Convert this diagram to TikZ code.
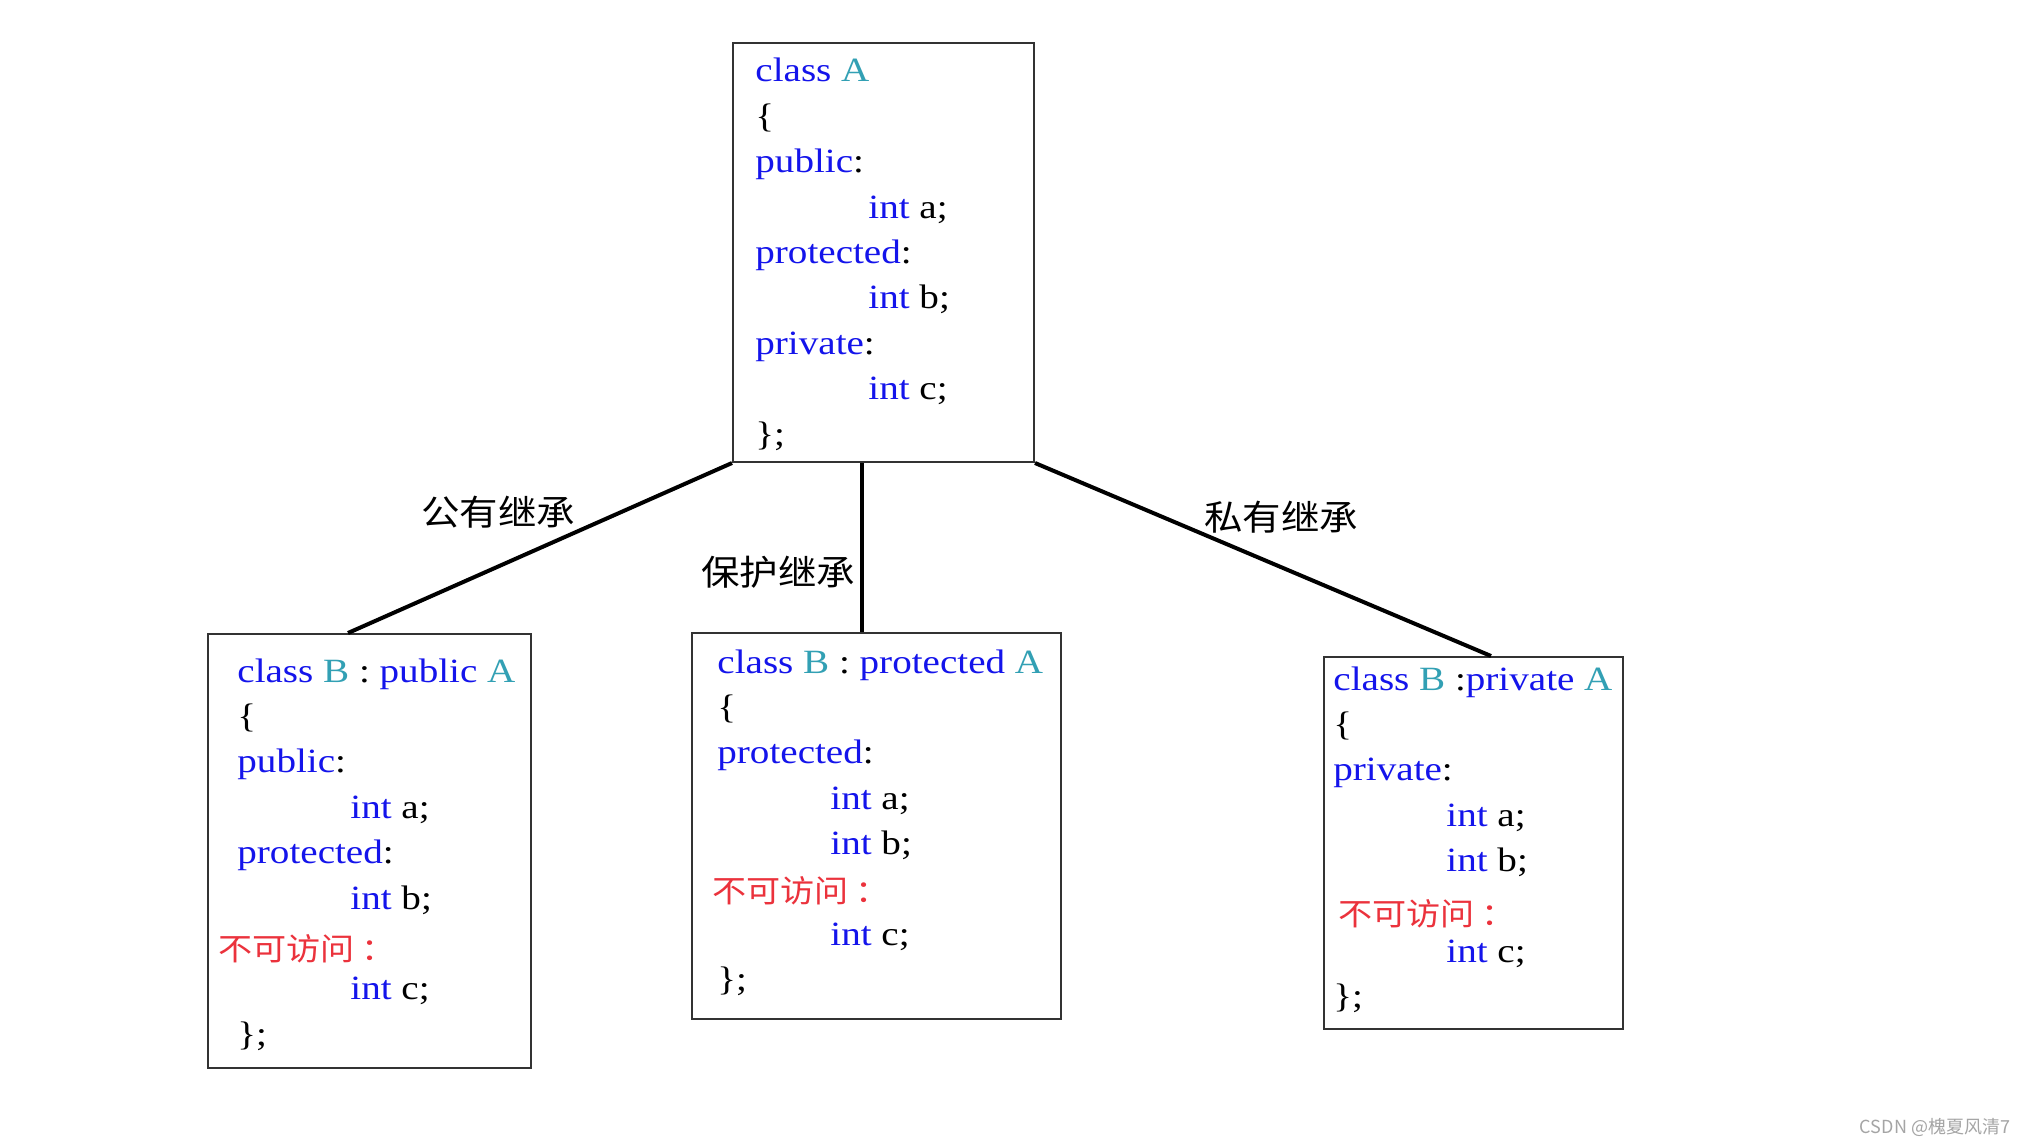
\documentclass[tikz,border=0pt]{standalone}
\usepackage{fontspec}
\setmainfont{Liberation Serif}[FakeStretch=1.15]
\newfontfamily\cjk{Noto Sans CJK SC}[FakeStretch=1.1]
\newfontfamily\cjkmark{Noto Sans CJK SC}
\usetikzlibrary{positioning}
\definecolor{kwblue}{RGB}{20,20,235}
\definecolor{clsteal}{RGB}{50,160,180}
\definecolor{naRed}{RGB}{235,50,60}
\definecolor{markgray}{RGB}{165,165,165}
\newcommand{\kw}[1]{\textcolor{kwblue}{#1}}
\newcommand{\clsname}[1]{\textcolor{clsteal}{#1}}
\newcommand{\noacc}[2]{\hspace*{#1}\raisebox{#2}{\cjk\fontsize{15.5}{15.5}\selectfont\textcolor{naRed}{不可访问\hspace{3.5pt}：}}}
\newcommand{\ind}{\hspace*{56.5pt}}

\begin{document}
\begin{tikzpicture}[
  x=0.5pt, y=-0.5pt,
  cbox/.style={draw=black!80, line width=1pt, anchor=north west, inner sep=0pt},
  code/.style={anchor=base west, inner sep=0pt, font=\fontsize{17}{22.7}\selectfont},
  inherit/.style={line width=2pt},
  lbl/.style={font=\cjk\fontsize{17.5}{17.5}\selectfont}
]
  \fill[white] (0,0) rectangle (2029,1144);
  \useasboundingbox (0,0) rectangle (2029,1144);

  % base class
  \node[cbox, minimum width=150.5pt, minimum height=209.5pt] (A) at (732,42) {};
  \node[code] (Atxt) at (755,82) {\begin{tabular}[t]{@{}l@{}}
    \kw{class} \clsname{A}\\
    \{\\
    \kw{public}:\\
    \ind\kw{int} a;\\
    \kw{protected}:\\
    \ind\kw{int} b;\\
    \kw{private}:\\
    \ind\kw{int} c;\\
    \};
  \end{tabular}};

  % derived classes
  \node[cbox, minimum width=161.5pt, minimum height=217pt] (pub) at (207,633) {};
  \node[code] (pubtxt) at (237,682) {\begin{tabular}[t]{@{}l@{}}
    \kw{class} \clsname{B} : \kw{public} \clsname{A}\\
    \{\\
    \kw{public}:\\
    \ind\kw{int} a;\\
    \kw{protected}:\\
    \ind\kw{int} b;\\
    \noacc{-9.5pt}{-3pt}\\
    \ind\kw{int} c;\\
    \};
  \end{tabular}};

  \node[cbox, minimum width=184.5pt, minimum height=193pt] (pro) at (691,632) {};
  \node[code] (protxt) at (717,673) {\begin{tabular}[t]{@{}l@{}}
    \kw{class} \clsname{B} : \kw{protected} \clsname{A}\\
    \{\\
    \kw{protected}:\\
    \ind\kw{int} a;\\
    \ind\kw{int} b;\\
    \noacc{-2.5pt}{-1pt}\\
    \ind\kw{int} c;\\
    \};
  \end{tabular}};

  \node[cbox, minimum width=149.5pt, minimum height=186pt] (pri) at (1323,656) {};
  \node[code] (pritxt) at (1333,690) {\begin{tabular}[t]{@{}l@{}}
    \kw{class} \clsname{B} :\kw{private} \clsname{A}\\
    \{\\
    \kw{private}:\\
    \ind\kw{int} a;\\
    \ind\kw{int} b;\\
    \noacc{2.5pt}{-4pt}\\
    \ind\kw{int} c;\\
    \};
  \end{tabular}};

  % inheritance lines
  \draw[inherit] (A.south west) -- ([xshift=-10.75pt]pub.north);
  \draw[inherit] ([xshift=-10.75pt]A.south) -- ([xshift=-7.25pt]pro.north);
  \draw[inherit] (A.south east) -- ([xshift=8.75pt]pri.north);

  \node[lbl] (pubL) at (498,512) {公有继承};
  \node[lbl] (proL) at (778,572) {保护继承};
  \node[lbl] (priL) at (1281,517) {私有继承};

  \node[font=\cjkmark\fontsize{9}{9}\selectfont, text=markgray] (mark) at (1935,1127) {CSDN @槐夏风清7};
\end{tikzpicture}
\end{document}
